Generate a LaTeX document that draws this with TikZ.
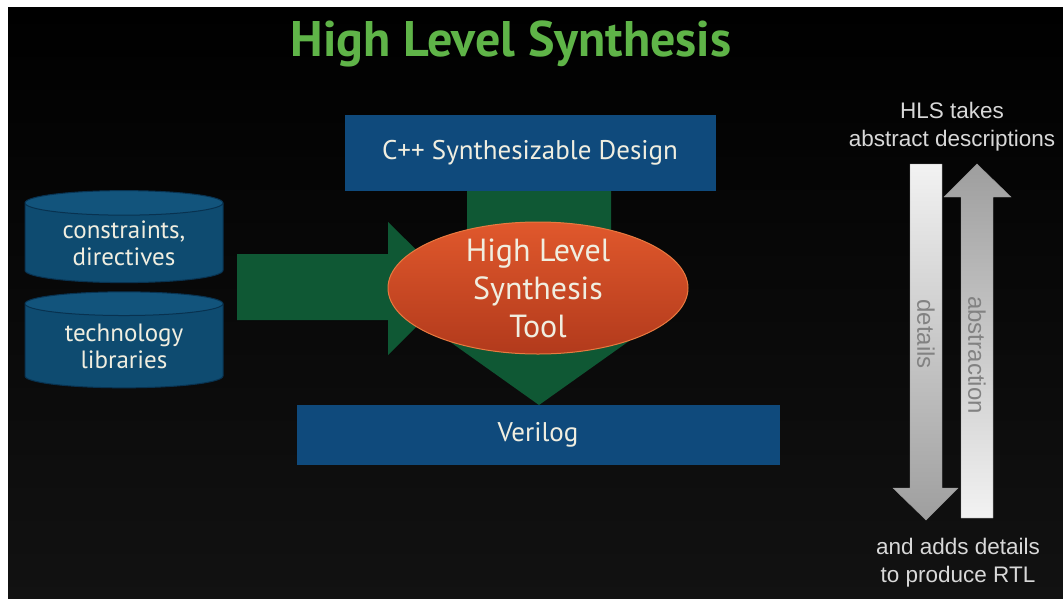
\documentclass[tikz,border=0pt]{standalone}
\usepackage{fontspec}
\setmainfont{PT Sans}
\newfontfamily\arialfont{Liberation Sans}
\definecolor{hlsgreen}{RGB}{95,180,72}
\definecolor{hlsblue}{RGB}{15,74,124}
\definecolor{hlsdb}{RGB}{14,75,112}
\definecolor{hlsdbtop}{RGB}{18,84,124}
\definecolor{hlsdbedge}{RGB}{8,50,80}
\definecolor{hlsarrow}{RGB}{15,88,52}
\definecolor{hlsredtop}{RGB}{224,88,44}
\definecolor{hlsredbot}{RGB}{178,58,28}
\definecolor{hlsredrim}{RGB}{232,122,64}
\definecolor{hlscream}{RGB}{240,238,224}
\definecolor{hlsgray}{RGB}{216,216,216}
\definecolor{hlsdim}{RGB}{130,130,130}
\usetikzlibrary{shapes.geometric,positioning}

\begin{document}
\begin{tikzpicture}[x=1pt,y=-1pt,
  block/.style={fill=hlsblue,inner sep=0pt,text=hlscream,font=\fontsize{27}{32}\selectfont},
  db/.style={cylinder,shape border rotate=90,aspect=0.2,draw=hlsdbedge,line width=1pt,
    cylinder uses custom fill,cylinder body fill=hlsdb,cylinder end fill=hlsdbtop,
    minimum width=198pt,inner sep=0pt,align=center,text=hlscream,font=\fontsize{25}{27}\selectfont},
  bigarrow/.style={fill=hlsarrow},
  note/.style={align=center,text=hlsgray,font=\arialfont\fontsize{22.5}{28}\selectfont},
  flow/.style={draw=white!60!black,line width=0.4pt},
  flowlabel/.style={text=hlsdim,rotate=-90,font=\arialfont\fontsize{24}{28}\selectfont}]
  \useasboundingbox (0,0) rectangle (1063,598);
  % background
  \fill[white] (0,0) rectangle (1063,598);
  \shade[top color=black,bottom color=black!93!white] (8,7) rectangle (1063,598);
  % title
  \node[text=hlsgreen,font=\bfseries\fontsize{50}{58}\selectfont] (title) at (511,44) {High Level Synthesis};
  % inputs: libraries and directives
  \node[db,minimum height=92pt] (cons) at (124,243) {constraints,\\directives};
  \node[db,minimum height=96pt] (tech) at (124,346) {technology\\libraries};
  % green flow arrows
  \fill[bigarrow] (237,254) -- (388,254) -- (388,222) -- (455,288) -- (388,355) -- (388,320) -- (237,320) -- cycle;
  \fill[bigarrow] (467,191) -- (611,191) -- (611,302) -- (684,302) -- (539,405) -- (394,302) -- (467,302) -- cycle;
  % source and result
  \node[block,minimum width=371pt,minimum height=76pt] (cpp) at (530,153) {C++ Synthesizable Design};
  \node[block,minimum width=483pt,minimum height=60pt] (verilog) at (538,435) {Verilog};
  % the tool itself
  \node[ellipse,top color=hlsredtop,bottom color=hlsredbot,draw=hlsredrim,line width=1pt,
    minimum width=300pt,minimum height=132pt] (hls) at (538,288) {};
  \node[align=center,text=hlscream,font=\fontsize{32}{38}\selectfont] (hlstext) at (hls.center) {High Level\\Synthesis\\Tool};
  % abstraction vs. details
  \node[note] (takes) at (952,127) {HLS takes\\abstract descriptions};
  \node[note] (adds) at (958,563) {and adds details\\to produce RTL};
  \shade[flow,top color=white!95!black,bottom color=white!62!black]
    (910,164) -- (942,164) -- (942,488) -- (958,488) -- (926,520) -- (893,488) -- (910,488) -- cycle;
  \shade[flow,top color=white!62!black,bottom color=white!95!black]
    (961,518) -- (993,518) -- (993,197) -- (1011,197) -- (977,164) -- (944,197) -- (961,197) -- cycle;
  \node[flowlabel] (details) at (926,334) {details};
  \node[flowlabel] (abstr) at (977,355) {abstraction};
\end{tikzpicture}
\end{document}
